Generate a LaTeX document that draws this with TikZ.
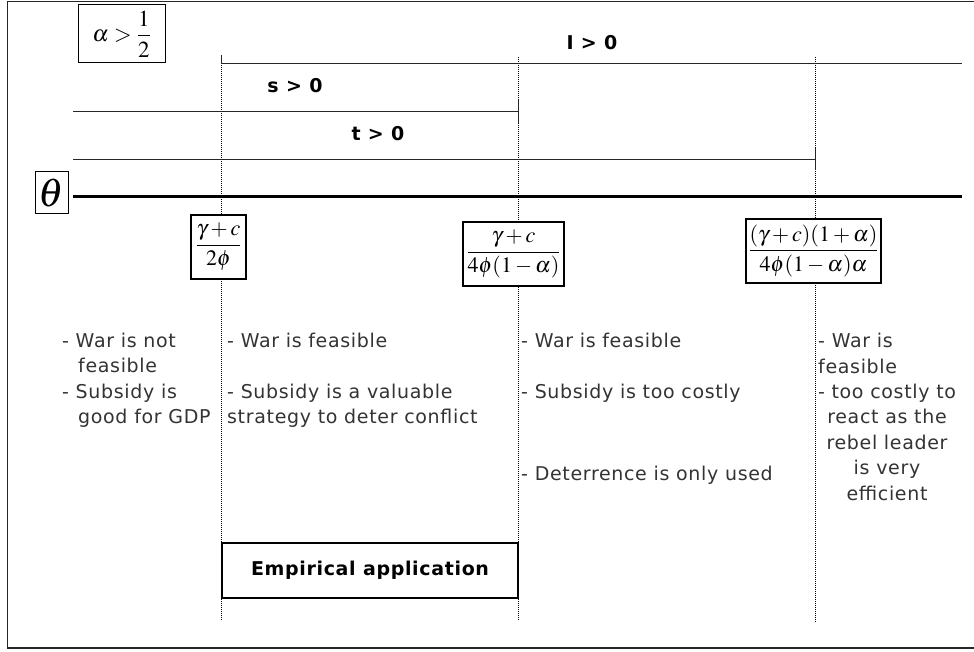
\documentclass[tikz,border=0pt]{standalone}
\usepackage{mathptmx}
\usepackage[no-math]{fontspec}
\newfontfamily\vfont[LetterSpace=3.5]{DejaVu Sans}
\begin{document}
\begin{tikzpicture}[x=1pt,y=-1pt,
  txt/.style={font=\vfont\fontsize{19}{25}\selectfont, text=black!80, inner sep=0pt},
  hd/.style={font=\vfont\bfseries\fontsize{19}{25}\selectfont, inner sep=0pt},
  thinline/.style={line width=0.8pt, black!85},
  thetaline/.style={line width=3pt},
  guide/.style={line width=1pt, dash pattern=on 1pt off 1pt},
  mbox/.style={draw, line width=1.2pt, fill=white, inner sep=0pt, font=\fontsize{22}{26}\selectfont},
  frameline/.style={line width=1.4pt, black!85}]
\useasboundingbox (0,0) rectangle (974,652);
% frame
\coordinate (fa) at (974,1.5);
\coordinate (fb) at (7.5,1.5);
\coordinate (fc) at (7.5,648);
\coordinate (fd) at (974,648);
\draw[frameline] (fa) -- (fb) -- (fc) -- (fd);
% guides
\coordinate (g1t) at (221,55);  \coordinate (g1b) at (221,620);
\coordinate (g2t) at (518,57);  \coordinate (g2b) at (518,620);
\coordinate (g3t) at (815,57);  \coordinate (g3b) at (815,622);
\draw[guide] (g1t) -- (g1b);
\draw[guide] (g2t) -- (g2b);
\draw[guide] (g3t) -- (g3b);
% I line
\coordinate (i0) at (221,63); \coordinate (i1) at (962,63);
\draw[thinline] (g1t) -- (i0) -- (i1);
% s line
\coordinate (s0) at (73,111); \coordinate (s1) at (518,111);
\coordinate (s1a) at (518,100); \coordinate (s1b) at (518,123);
\draw[thinline] (s0) -- (s1);
\draw[thinline] (s1a) -- (s1b);
% t line
\coordinate (t0) at (73,159); \coordinate (t1) at (815,159);
\coordinate (t1a) at (815,148); \coordinate (t1b) at (815,170);
\draw[thinline] (t0) -- (t1);
\draw[thinline] (t1a) -- (t1b);
% theta
\node[draw, line width=1pt, minimum width=33pt, minimum height=42pt, inner sep=0pt, font=\fontsize{40}{40}\selectfont] (theta) at (51.5,193) {$\theta$};
\coordinate (th0) at (73,197); \coordinate (th1) at (962,197);
\draw[thetaline] (th0) -- (th1);
% alpha box
\node[draw, line width=1pt, minimum width=87pt, minimum height=58pt, inner sep=0pt, font=\fontsize{23}{26}\selectfont] (alpha) at (121.5,34) {$\alpha>\displaystyle\frac{1}{2}$};
% labels
\node[hd, anchor=base] (lI) at (592,50) {I > 0};
\node[hd, anchor=base] (ls) at (295,93) {s > 0};
\node[hd, anchor=base] (lt) at (378,141) {t > 0};
% fraction boxes
\node[mbox, minimum width=55pt, minimum height=64pt] (f1) at (218.5,247) {$\displaystyle\frac{\gamma+c}{2\phi}$};
\node[mbox, minimum width=101pt, minimum height=64pt] (f2) at (513.5,254) {$\displaystyle\frac{\gamma+c}{4\phi(1-\alpha)}$};
\node[mbox, minimum width=135pt, minimum height=64pt] (f3) at (813.5,251) {$\displaystyle\frac{(\gamma+c)(1+\alpha)}{4\phi(1-\alpha)\alpha}$};
% column 1
\node[txt, anchor=base west] (a1) at (62,347) {-\ War is not};
\node[txt, anchor=base west] (a2) at (78,372) {feasible};
\node[txt, anchor=base west] (a3) at (62,398) {-\ Subsidy is};
\node[txt, anchor=base west] (a4) at (78,423) {good for GDP};
% column 2
\node[txt, anchor=base west] (b1) at (227,347) {-\ War is feasible};
\node[txt, anchor=base west] (b2) at (227,398) {-\ Subsidy is a valuable};
\node[txt, anchor=base west] (b3) at (227,423) {strategy to deter conflict};
% column 3
\node[txt, anchor=base west] (c1) at (521,347) {-\ War is feasible};
\node[txt, anchor=base west] (c2) at (521,398) {-\ Subsidy is too costly};
\node[txt, anchor=base west] (c3) at (521,480) {-\ Deterrence is only used};
% column 4
\node[txt, anchor=base west] (d1) at (818,347) {-\ War is};
\node[txt, anchor=base west] (d2) at (818,373) {feasible};
\node[txt, anchor=base] (d3) at (887,398) {-\ too costly to};
\node[txt, anchor=base] (d4) at (887,423.5) {react as the};
\node[txt, anchor=base] (d5) at (887,449) {rebel leader};
\node[txt, anchor=base] (d6) at (887,474.5) {is very};
\node[txt, anchor=base] (d7) at (887,500) {efficient};
% empirical box
\node[draw, line width=2.5pt, fill=white, minimum width=296pt, minimum height=55pt, inner sep=0pt, font=\vfont\bfseries\fontsize{19}{25}\selectfont] (emp) at (370,570.5) {Empirical application};
\end{tikzpicture}
\end{document}
